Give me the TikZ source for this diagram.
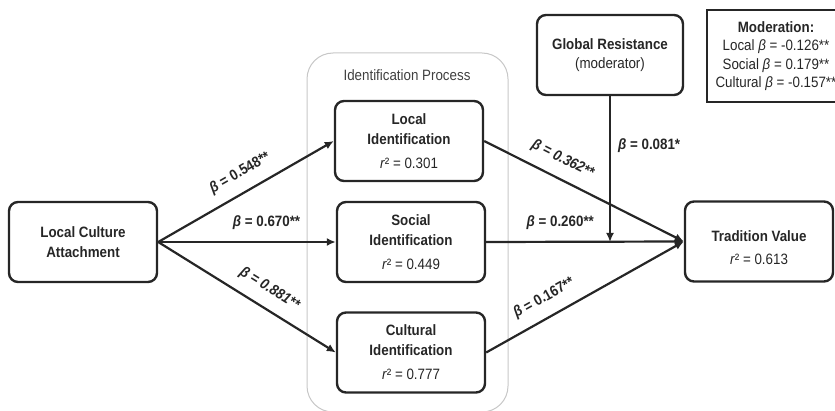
\documentclass[tikz,border=0pt]{standalone}
\usepackage{fontspec}
\setmainfont{Liberation Sans}[FakeStretch=0.89]
\usetikzlibrary{arrows.meta, positioning}

\begin{document}
\begin{tikzpicture}[
  x=1pt, y=1pt,
  every node/.style={font=\fontsize{15}{20}\selectfont, align=center, text=black!85},
  construct/.style={rectangle, draw=black!85, line width=2.4pt, rounded corners=9pt, minimum width=148pt, minimum height=80pt, inner sep=2pt, font=\fontsize{15}{20}\selectfont\bfseries},
  group box/.style={rectangle, draw=black!22, line width=1pt, rounded corners=26pt, minimum width=201pt, minimum height=359pt},
  legend/.style={rectangle, draw=black!85, line width=1.2pt, minimum width=138pt, minimum height=92pt, inner sep=2pt, font=\fontsize{15}{18.5}\selectfont},
  path arrow/.style={draw=black!85, line width=2.2pt, -{Latex[length=9pt, width=8pt]}},
  edge label/.style={sloped, anchor=south, inner xsep=1pt, inner ysep=11pt, font=\fontsize{15}{16}\selectfont\bfseries},
  side label/.style={anchor=west, inner xsep=7pt, font=\fontsize{15}{16}\selectfont\bfseries}
]
\useasboundingbox (0,0) rectangle (835,410);

% mediator group
\node[group box] (idproc) at (407.5,177.5) {};
\node[text=black!75] (idtitle) at (407,335) {Identification Process};

% constructs
\node[construct] (attach) at (83,168) {Local Culture\\Attachment};
\node[construct] (localid) at (409,269) {Local\\Identification\\[4pt]\textnormal{\textit{r}² = 0.301}};
\node[construct] (socialid) at (411,168) {Social\\Identification\\[4pt]\textnormal{\textit{r}² = 0.449}};
\node[construct] (culturalid) at (411,57.5) {Cultural\\Identification\\[4pt]\textnormal{\textit{r}² = 0.777}};
\node[construct] (tradition) at (759,168.5) {\mbox{}\\[4pt]Tradition Value\\[3pt]\textnormal{\textit{r}² = 0.613}};
\node[construct, minimum width=146pt] (resist) at (610,355) {Global Resistance\\[-1pt]\textnormal{(moderator)}};
\node[legend] (moder) at (776,354) {\textbf{Moderation:}\\Local \textit{β} = -0.126**\\Social \textit{β} = 0.179**\\Cultural \textit{β} = -0.157**};

% paths
\draw[path arrow] (attach.east) -- node[edge label, pos=0.52] {\textit{β} = 0.548**} (localid.west);
\draw[path arrow] (attach.east) -- node[edge label, pos=0.61] {\textit{β} = 0.670**} (socialid.west);
\draw[path arrow] (attach.east) -- node[edge label, pos=0.57, font=\fontsize{15}{16}\selectfont\bfseries\itshape] {β = 0.881**} (culturalid.west);

\draw[path arrow] (localid.east) -- node[edge label, pos=0.35, font=\fontsize{15}{16}\selectfont\bfseries\itshape] {β = 0.362**} (tradition.west);
\draw[path arrow] (socialid.east) -- node[edge label, pos=0.375] {\textit{β} = 0.260**} (tradition.west);
\draw[path arrow] (culturalid.east) -- node[edge label, pos=0.34] {\textit{β} = 0.167**} (tradition.west);

% moderation
\coordinate (modpt) at (resist.south |- socialid.east);
\draw[path arrow] (resist.south) -- node[side label, pos=0.34] {\textit{β} = 0.081*} (modpt);

\end{tikzpicture}
\end{document}
